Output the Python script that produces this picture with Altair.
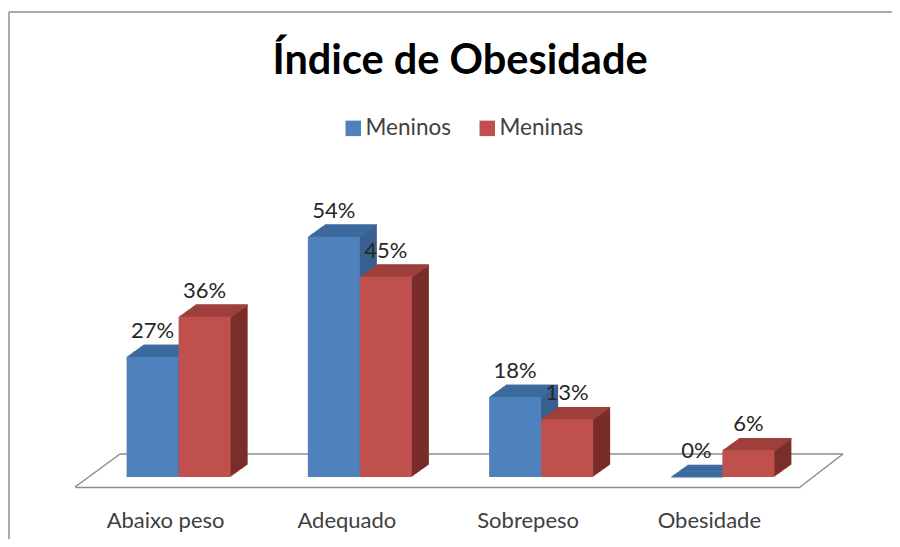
import altair as alt
import pandas as pd

categories = ["Abaixo peso", "Adequado", "Sobrepeso", "Obesidade"]
series = ["Meninos", "Meninas"]
meninos = [27, 54, 18, 0]
meninas = [36, 45, 13, 6]
title_text = ["Índice de Obesidade"]

front_colors = ["#4F81BD", "#C0504D"]
top_colors = ["#3D6A9E", "#A0403D"]
side_colors = ["#37608F", "#7A2E2C"]

rows = []
for c, m, f in zip(categories, meninos, meninas):
    rows.append({"cat": c, "serie": series[0], "v": m, "label": f"{m}%"})
    rows.append({"cat": c, "serie": series[1], "v": f, "label": f"{f}%"})
df = pd.DataFrame(rows)
one = pd.DataFrame({"t": title_text})

W, H = 725, 277
SHIFT = 13
DEPTH = 17
RISE = 12.2
k = RISE / DEPTH
PI = 0.426
BAND = (W / 4) * (1 - PI)

x_enc = alt.X(
    "cat:N", sort=categories,
    scale=alt.Scale(paddingInner=PI, paddingOuter=PI / 2),
    axis=alt.Axis(title=None, labelAngle=0, labelFontSize=22, labelFont="Lato",
                  labelColor="#404040", labelPadding=23, ticks=False,
                  domainColor="#8c8c8c", domainWidth=1.5, grid=False),
)
y_enc = alt.Y("v:Q", scale=alt.Scale(domain=[-2.25, 60], nice=False, zero=False), axis=None)


def xo(start, end):
    return alt.XOffset("serie:N", sort=series,
                       scale=alt.Scale(domain=series, range=[start, end],
                                       paddingInner=0, paddingOuter=0))


def cond(colors):
    return alt.condition(alt.datum.serie == series[0], alt.value(colors[0]), alt.value(colors[1]))


base = alt.Chart(df)
layers = []

# border (top and left edges)
edge = dict(color="#8c8c8c", strokeWidth=1.5)
layers.append(alt.Chart(one).mark_rule(**edge).encode(
    x=alt.value(-66), x2=alt.value(817), y=alt.value(-198), y2=alt.value(-198)))
layers.append(alt.Chart(one).mark_rule(**edge).encode(
    x=alt.value(-66), x2=alt.value(-66), y=alt.value(-198), y2=alt.value(420)))
# floor
rule = dict(color="#8c8c8c", strokeWidth=1.5)
layers.append(alt.Chart(one).mark_rule(**rule).encode(
    x=alt.value(45), x2=alt.value(768), y=alt.value(244), y2=alt.value(244)))
layers.append(alt.Chart(one).mark_rule(**rule).encode(
    x=alt.value(0), x2=alt.value(45), y=alt.value(H), y2=alt.value(244)))
layers.append(alt.Chart(one).mark_rule(**rule).encode(
    x=alt.value(W), x2=alt.value(768), y=alt.value(H), y2=alt.value(244)))

# side extrusion
for i in range(DEPTH, 0, -1):
    layers.append(base.mark_bar(yOffset=-i * k, y2Offset=-i * k).encode(
        x=x_enc, xOffset=xo(SHIFT + i, SHIFT + i + BAND), y=y_enc, y2=alt.datum(0),
        color=cond(side_colors)))
# top faces
for i in range(DEPTH, 0, -1):
    layers.append(base.mark_bar(yOffset=-i * k, y2Offset=-(i - 1) * k + 0.6).encode(
        x=x_enc, xOffset=xo(SHIFT + i, SHIFT + i + BAND), y=y_enc, y2=alt.Y2("v"),
        color=cond(top_colors)))
# front faces
layers.append(base.mark_bar().encode(
    x=x_enc, xOffset=xo(SHIFT, SHIFT + BAND), y=y_enc, y2=alt.datum(0),
    color=alt.Color("serie:N", sort=series,
                    scale=alt.Scale(domain=series, range=front_colors),
                    legend=alt.Legend(orient="none", legendX=267, legendY=-93,
                                      direction="horizontal", title=None,
                                      symbolType="square", symbolSize=240,
                                      symbolStrokeWidth=0, labelFontSize=22.5,
                                      labelFont="Lato", labelColor="#404040",
                                      labelOffset=1, columnPadding=25))))
# value labels (centred on each front face; text uses a point offset scale)
layers.append(base.mark_text(dy=-19, baseline="alphabetic", fontSize=22,
                             font="Lato", color="#262626").encode(
    x=x_enc, xOffset=xo(SHIFT + BAND / 4, SHIFT + 3 * BAND / 4), y=y_enc, text="label:N"))
# title
layers.append(alt.Chart(one).mark_text(fontSize=41.5, fontWeight="bold", font="Lato",
                                       color="#000000", align="center",
                                       baseline="alphabetic").encode(
    x=alt.value(385), y=alt.value(-136), text="t:N"))

chart = alt.layer(*layers).resolve_scale(xOffset="independent").properties(
    width=W, height=H,
    autosize=alt.AutoSizeParams(type="none"),
    padding={"left": 67, "top": 202, "right": 92, "bottom": 52},
).configure(font="Lato").configure_view(strokeOpacity=0)

chart.save("out.html", embed_options={"renderer": "svg", "actions": False})
